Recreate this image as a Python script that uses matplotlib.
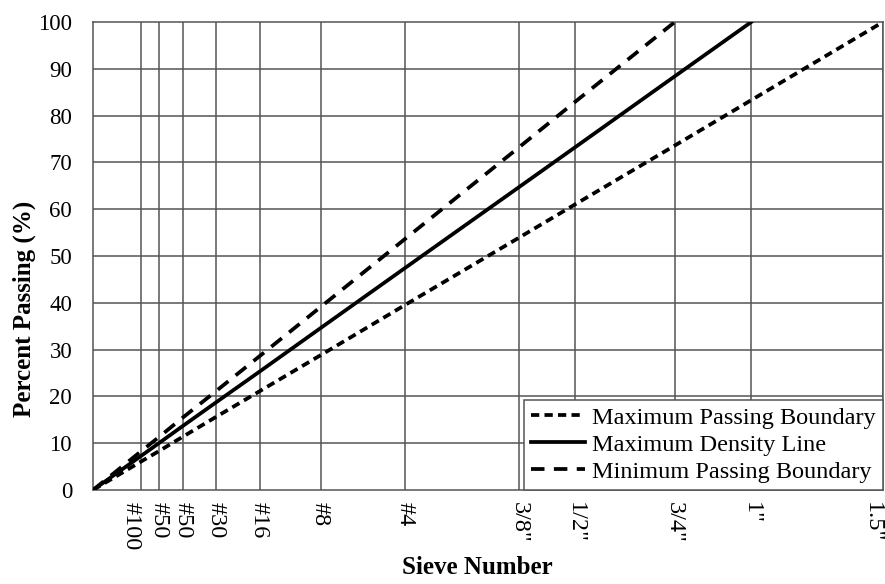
import numpy as np
import matplotlib
matplotlib.use("Agg")
import matplotlib.pyplot as plt

# sieve openings (mm) and the labels printed under them
sieve_mm = [0.075, 0.15, 0.3, 0.6, 1.18, 2.36, 4.75, 9.5, 12.5, 19.0, 25.0, 37.5]
sieve_labels = ["#100", "#50", "#50", "#30", "#16", "#8", "#4",
                '3/8"', '1/2"', '3/4"', '1"', '1.5"']

# percent passing
max_pass_x = [0, 0.075, 0.15, 0.3, 0.6, 1.18, 2.36, 4.75, 9.5, 12.5, 19.0, 25.0, 37.5]
max_pass_y = [0, 6.1, 8.3, 11.4, 15.6, 21.1, 28.8, 39.5, 53.9, 61.0, 73.6, 83.3, 100]

max_dens_x = [0, 0.075, 0.15, 0.3, 0.6, 1.18, 2.36, 4.75, 9.5, 12.5, 19.0, 25.0]
max_dens_y = [0, 7.3, 10.0, 13.7, 18.7, 25.3, 34.6, 47.4, 64.7, 73.2, 88.4, 100]

min_pass_x = [0, 0.075, 0.15, 0.3, 0.6, 1.18, 2.36, 4.75, 9.5, 12.5, 19.0]
min_pass_y = [0, 8.3, 11.3, 15.5, 21.1, 28.6, 39.1, 53.6, 73.2, 82.9, 100]

# 0.45 power gradation chart axis
power = 0.45
fwd = lambda x: np.power(np.clip(x, 0, None), power)
inv = lambda x: np.power(np.clip(x, 0, None), 1 / power)

plt.rcParams["font.family"] = ["Liberation Serif", "DejaVu Serif"]

fig = plt.figure(figsize=(8.85, 5.84), dpi=100)
ax = fig.add_axes([93 / 885, 1 - 490 / 584, 790 / 885, 468 / 584])
ax.set_xscale("function", functions=(fwd, inv))
ax.set_xlim(0, 37.5)
ax.set_ylim(0, 100)

grid_c = "#555555"
for s in sieve_mm:
    ax.axvline(s, color=grid_c, lw=1.1, zorder=1)
for v in range(10, 100, 10):
    ax.axhline(v, color=grid_c, lw=1.1, zorder=1)
for sp in ax.spines.values():
    sp.set_color(grid_c)
    sp.set_linewidth(1.1)

ax.plot(max_pass_x, max_pass_y, color="black", lw=2.7, ls=(0, (2.2, 1.4)),
        label="Maximum Passing Boundary", zorder=3)
ax.plot(max_dens_x, max_dens_y, color="black", lw=2.7, ls="-",
        label="Maximum Density Line", zorder=3)
ax.plot(min_pass_x, min_pass_y, color="black", lw=2.7, ls=(0, (3.6, 2.5)),
        label="Minimum Passing Boundary", zorder=3)

# tick labels; the last one sits inside the frame, so it is placed by hand
ax.set_xticks(sieve_mm)
ax.set_xticklabels(sieve_labels[:-1] + [""], rotation=-90, fontsize=17.5, va="top")
ax.annotate(sieve_labels[-1], xy=(sieve_mm[-1], 0), xycoords=("data", "axes fraction"),
            xytext=(-8, -9), textcoords="offset points", rotation=-90,
            ha="center", va="top", fontsize=17.5)
ax.get_xticklabels()[0].set_ha("right")

ax.set_yticks(range(0, 101, 10))
ax.tick_params(axis="y", labelsize=16.5, length=0, pad=15)
ax.tick_params(axis="x", length=0, pad=9)

ax.set_ylabel("Percent Passing (%)", fontsize=18, fontweight="bold")
ax.yaxis.set_label_coords(-57 / 790, 0.387)
ax.set_xlabel("Sieve Number", fontsize=18, fontweight="bold")
ax.xaxis.set_label_coords(0.487, -66 / 468)

leg = ax.legend(loc="lower right", fontsize=17.5, frameon=True, fancybox=False,
                borderaxespad=0, handlelength=2.2, handletextpad=0.3,
                labelspacing=0.2, borderpad=0.3)
leg.get_frame().set_edgecolor(grid_c)
leg.get_frame().set_linewidth(1.1)
leg.get_frame().set_alpha(1)

fig.savefig("out.png", dpi=100)
